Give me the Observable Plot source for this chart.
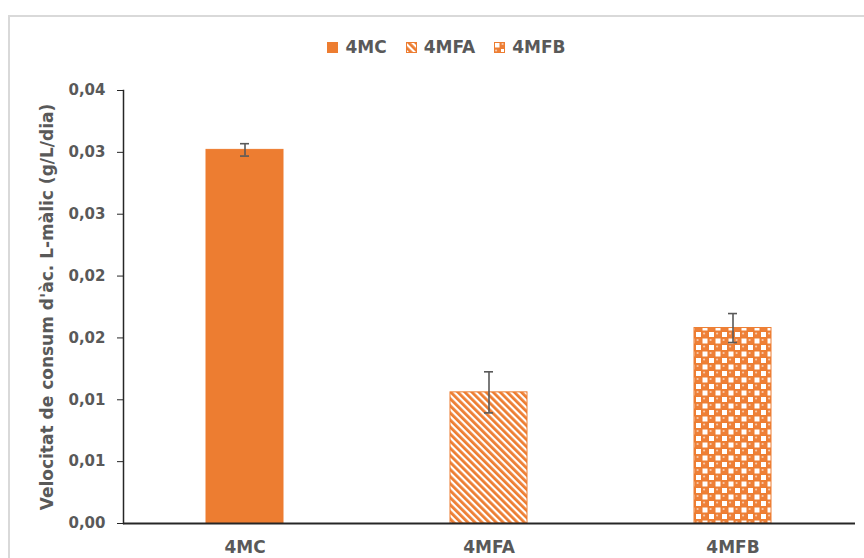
<!DOCTYPE html>
<html>
<head>
<meta charset="utf-8">
<script src="https://cdn.jsdelivr.net/npm/d3@7"></script>
<script src="https://cdn.jsdelivr.net/npm/@observablehq/plot@0.6"></script>
<style>
  html, body { margin: 0; padding: 0; background: #fff; }
  #wrap { position: relative; width: 864px; height: 558px; overflow: hidden; font-family: "DejaVu Sans", sans-serif; }
  #frame { position: absolute; left: 8px; top: 15px; width: 900px; height: 600px; border: 2px solid #d9d9d9; box-sizing: border-box; }
  #legend { position: absolute; top: 37px; left: 0; width: 893px; display: flex; justify-content: center; gap: 19px; font-weight: bold; font-size: 17px; color: #595959; }
  #legend .item { display: flex; align-items: center; gap: 7px; }
  #legend svg { display: block; }
  #chart { position: absolute; left: 0; top: 0; }
  #chart svg text { fill: #595959; font-weight: bold; font-family: "DejaVu Sans", sans-serif; }
</style>
</head>
<body>
<svg width="0" height="0" style="position:absolute">
  <defs>
    <pattern id="pStripe" patternUnits="userSpaceOnUse" width="5" height="5" patternTransform="rotate(-45)">
      <rect x="0" y="0" width="5" height="5" fill="#ffffff"/>
      <rect x="0" y="0" width="2.8" height="5" fill="#ED7D31"/>
    </pattern>
    <pattern id="pBall" patternUnits="userSpaceOnUse" width="13" height="13">
      <rect x="0" y="0" width="13" height="13" fill="#ED7D31"/>
      <rect x="0.5" y="0.5" width="5" height="5" fill="#ffffff"/>
      <rect x="7" y="7" width="5" height="5" fill="#ffffff"/>
      <circle cx="9.5" cy="3" r="3.2" fill="#EE8038"/>
      <circle cx="8.6" cy="2" r="1.1" fill="#F8CBAD"/>
      <circle cx="3" cy="9.5" r="3.2" fill="#EE8038"/>
      <circle cx="2.1" cy="8.5" r="1.1" fill="#F8CBAD"/>
    </pattern>
  </defs>
</svg>
<div id="wrap">
  <div id="frame"></div>
  <div id="chart"></div>
  <div id="legend"></div>
</div>
<script>
// ---- data ----
const categories = ["4MC", "4MFA", "4MFB"];
const values = [0.0302, 0.0106, 0.0158];
const errors = [0.0005, 0.00166, 0.00117];
const fills = ["#ED7D31", "url(#pStripe)", "url(#pBall)"];
const yTicks = [0, 0.005, 0.01, 0.015, 0.02, 0.025, 0.03, 0.035];
const yTickLabels = ["0,00", "0,01", "0,01", "0,02", "0,02", "0,03", "0,03", "0,04"];
const yTitle = "Velocitat de consum d'àc. L-màlic (g/L/dia)";

const data = categories.map((c, i) => ({cat: c, v: values[i], e: errors[i]}));

const chart = Plot.plot({
  width: 864,
  height: 558,
  marginTop: 90,
  marginBottom: 35,
  marginLeft: 123,
  marginRight: 9,
  style: {background: "transparent", overflow: "visible"},
  x: {domain: categories, paddingInner: 0.683, paddingOuter: 0.3415},
  y: {domain: [0, 0.035]},
  color: {domain: categories, range: fills},
  marks: [
    Plot.barY(data, {x: "cat", y: "v", fill: "cat", stroke: "#ED7D31", strokeWidth: 1}),
    Plot.ruleX(data, {x: "cat", y1: d => d.v - d.e, y2: d => d.v + d.e, stroke: "#595959", strokeWidth: 1.6}),
    Plot.tickY(data, {x: "cat", y: d => d.v - d.e, stroke: "#595959", strokeWidth: 1.6, insetLeft: 34, insetRight: 34}),
    Plot.tickY(data, {x: "cat", y: d => d.v + d.e, stroke: "#595959", strokeWidth: 1.6, insetLeft: 34, insetRight: 34}),
    Plot.axisY({ticks: yTicks, tickFormat: (d) => yTickLabels[yTicks.indexOf(d)], tickSize: 6, tickPadding: 12, fontSize: 15, stroke: "#262626", strokeOpacity: 1, label: null}),
    Plot.axisY({ticks: [], label: yTitle, labelArrow: "none", labelAnchor: "center", labelOffset: 83, fontSize: 17}),
    Plot.axisX({tickSize: 0, tickPadding: 17, fontSize: 17, label: null}),
    Plot.frame({anchor: "left", stroke: "#262626", strokeWidth: 1.5}),
    Plot.ruleY([0], {stroke: "#262626", strokeWidth: 2})
  ]
});
document.getElementById("chart").appendChild(chart);

// ---- legend ----
const legend = document.getElementById("legend");
categories.forEach((c, i) => {
  const item = document.createElement("div");
  item.className = "item";
  item.innerHTML = `<svg width="11" height="11"><rect x="0.5" y="0.5" width="10" height="10" fill="${fills[i]}" stroke="#ED7D31" stroke-width="1"/></svg><span>${c}</span>`;
  legend.appendChild(item);
});
</script>
</body>
</html>
